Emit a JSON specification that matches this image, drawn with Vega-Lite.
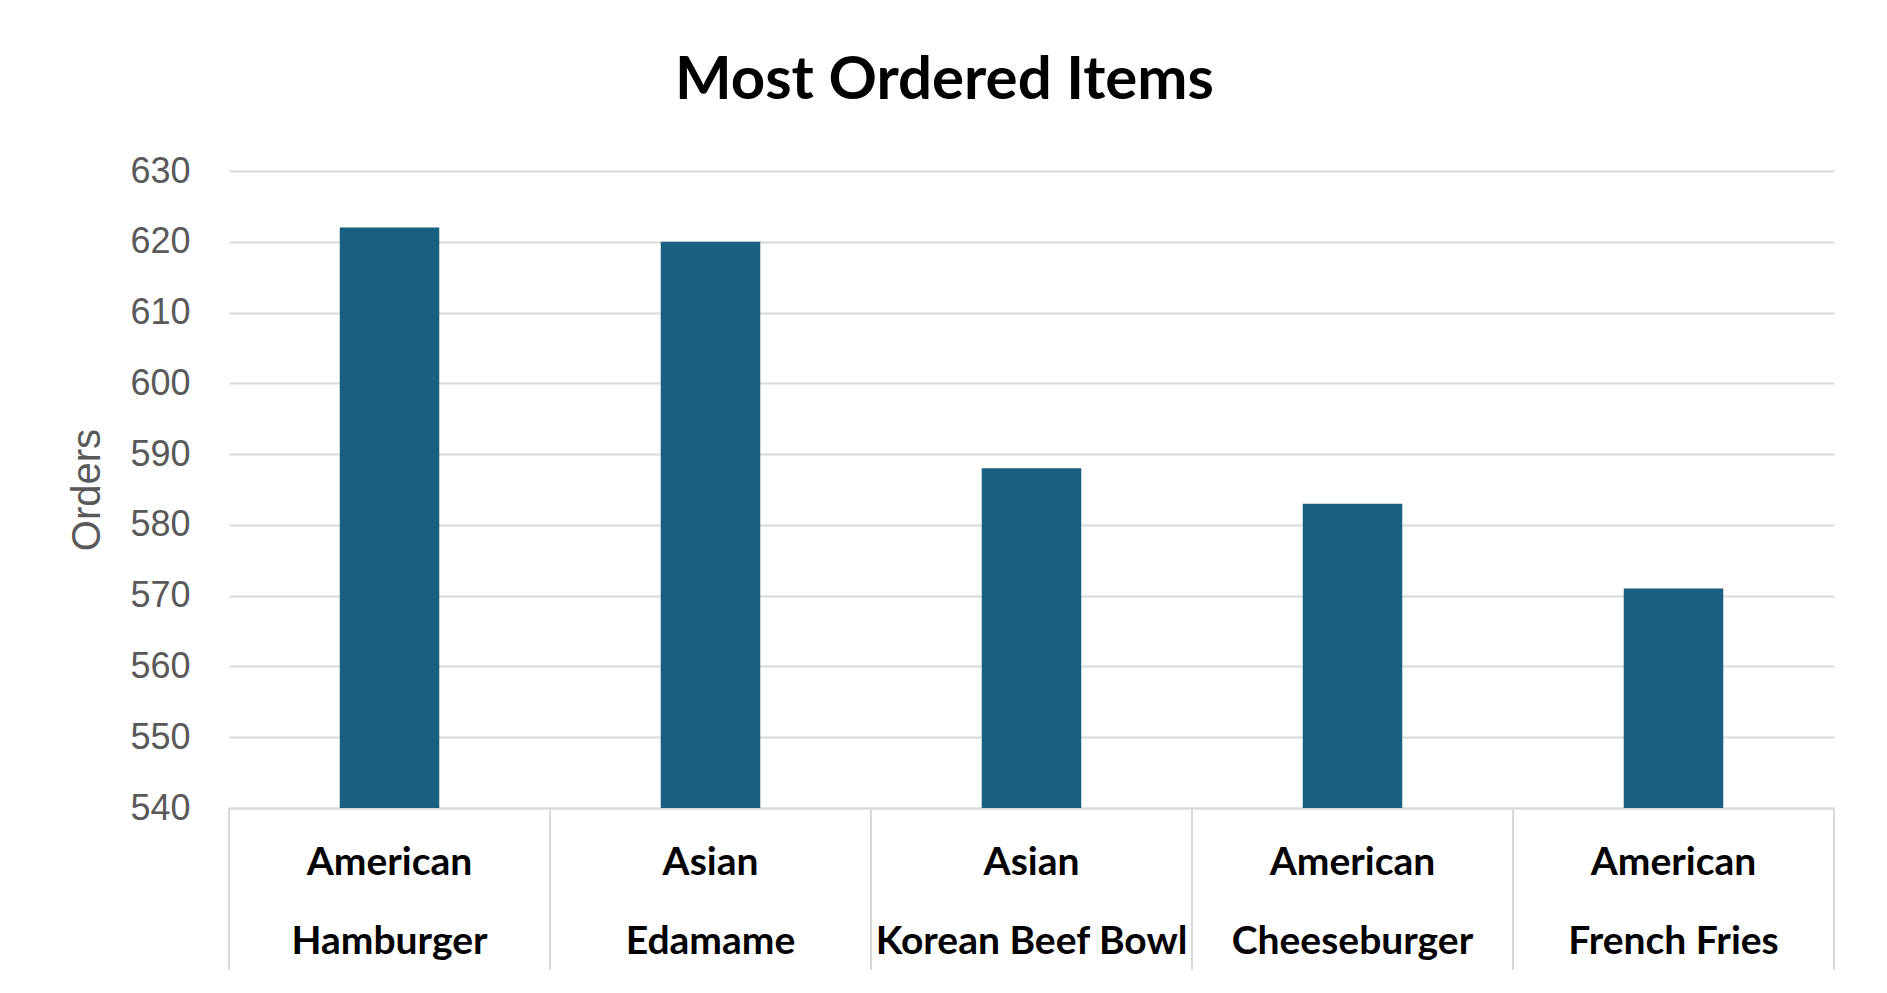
{
  "$schema": "https://vega.github.io/schema/vega-lite/v6.json",
  "autosize": {"type": "none"},
  "padding": {"left": 229, "top": 171, "right": 53, "bottom": 185},
  "width": 1605,
  "height": 637,
  "background": "white",
  "title": {
    "text": "Most Ordered Items",
    "font": "Lato",
    "fontSize": 60,
    "fontWeight": "bold",
    "color": "#000000",
    "anchor": "middle",
    "frame": "bounds",
    "baseline": "alphabetic",
    "offset": -6,
    "dx": -7
  },
  "data": {
    "values": [
      {"cuisine": "American", "item": "Hamburger", "orders": 622},
      {"cuisine": "Asian", "item": "Edamame", "orders": 620},
      {"cuisine": "Asian", "item": "Korean Beef Bowl", "orders": 588},
      {"cuisine": "American", "item": "Cheeseburger", "orders": 583},
      {"cuisine": "American", "item": "French Fries", "orders": 571}
    ]
  },
  "encoding": {
    "x": {
      "field": "item",
      "type": "nominal",
      "sort": null,
      "scale": {"paddingInner": 0, "paddingOuter": 0},
      "axis": {
        "title": null,
        "labelAngle": 0,
        "labelLimit": 0,
        "labelFont": "Lato",
        "labelFontWeight": "bold",
        "labelFontSize": 39,
        "labelColor": "#000000",
        "labelLineHeight": 79,
        "labelBaseline": "top",
        "labelPadding": 35,
        "labelExpr": "datum.value == 'Hamburger' ? ['American', 'Hamburger'] : datum.value == 'Edamame' ? ['Asian', 'Edamame'] : datum.value == 'Korean Beef Bowl' ? ['Asian', 'Korean Beef Bowl'] : datum.value == 'Cheeseburger' ? ['American', 'Cheeseburger'] : ['American', 'French Fries']",
        "ticks": false,
        "domain": true,
        "domainColor": "#d9d9d9",
        "domainWidth": 2,
        "grid": false
      }
    }
  },
  "layer": [
    {
      "mark": {"type": "bar", "color": "#185f80", "width": {"band": 0.31}},
      "encoding": {
        "y": {
          "field": "orders",
          "type": "quantitative",
          "scale": {"domain": [540, 630], "zero": false, "nice": false},
          "axis": {
            "title": "Orders",
            "titleFont": "Liberation Sans",
            "titleFontSize": 40,
            "titleFontWeight": "normal",
            "titleColor": "#595959",
            "titlePadding": 22,
            "values": [540, 550, 560, 570, 580, 590, 600, 610, 620, 630],
            "labelFont": "Liberation Sans",
            "labelFontSize": 36,
            "labelColor": "#595959",
            "labelPadding": 39,
            "ticks": false,
            "domain": false,
            "grid": true,
            "gridColor": "#d9d9d9",
            "gridWidth": 2
          }
        },
        "y2": {"datum": 540}
      }
    },
    {
      "mark": {"type": "rule", "color": "#d9d9d9", "strokeWidth": 2},
      "encoding": {
        "x": {"field": "item", "type": "nominal", "sort": null, "bandPosition": 0},
        "y": {"datum": 540},
        "y2": {"datum": 517.1}
      }
    },
    {
      "mark": {"type": "rule", "color": "#d9d9d9", "strokeWidth": 2},
      "encoding": {
        "x": {"datum": "French Fries", "type": "nominal", "bandPosition": 1},
        "y": {"datum": 540},
        "y2": {"datum": 517.1}
      }
    }
  ],
  "config": {"view": {"stroke": null}}
}
